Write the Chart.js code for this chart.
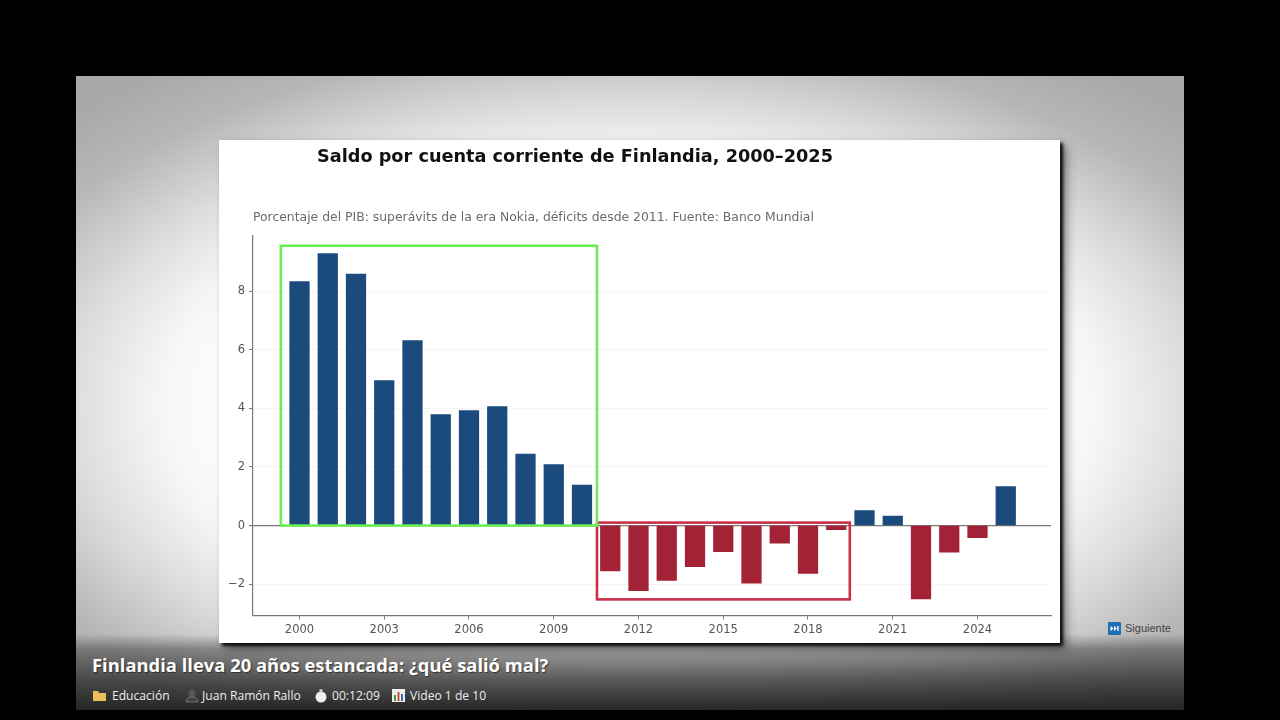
<!DOCTYPE html>
<html lang="es">
<head>
<meta charset="utf-8">
<title>Saldo por cuenta corriente de Finlandia</title>
<script src="https://cdn.jsdelivr.net/npm/chart.js@4"></script>
<style>
    html, body { margin: 0; width: 1280px; height: 720px; background: #000; overflow: hidden; }
    #fondo {
        position: absolute; left: 76px; top: 76px; width: 1108px; height: 634px;
        background: radial-gradient(ellipse 780px 420px at 50% 52%, #fff 50%, #f6f6f6 60%, #dcdcdc 72%, #b6b6b6 87%, #a8a8a8 100%);
    }
    #pie {
        position: absolute; left: 76px; top: 634px; width: 1108px; height: 76px;
        background: linear-gradient(to bottom, rgba(30,30,30,0), rgba(30,30,30,.4) 20%, rgba(30,30,30,.7) 60%, rgba(30,30,30,.95));
    }
    #tarjeta {
        position: absolute; left: 219px; top: 140px; width: 841px; height: 503px; background: #fff;
        box-shadow: 3px 3px 3px rgba(0,0,0,.9), 6px 6px 10px rgba(0,0,0,.45);
    }
    #grafico { position: absolute; left: 0; top: 0; }
    .texto { position: absolute; white-space: nowrap; font-family: "DejaVu Sans", sans-serif; }
    #titulo { left: 98px; top: 5px; font-size: 17.7px; line-height: 22px; font-weight: bold; color: #111; }
    #subtitulo { left: 34px; top: 69px; font-size: 12.4px; line-height: 16px; color: #6b6b6b; }
    #tituloVideo {
        position: absolute; left: 92px; top: 653px; white-space: nowrap; color: #fff;
        font: bold 18.4px/24px "Open Sans", sans-serif; text-shadow: 1px 1px 1px rgba(0,0,0,.5);
    }
    .meta {
        position: absolute; top: 687px; white-space: nowrap; color: #eee;
        font: 12.1px/18px "Open Sans", sans-serif;
    }
    .icono { position: absolute; }
    #siguiente { position: absolute; left: 1125px; top: 620px; color: #444; font: 11px/16px "Liberation Sans", sans-serif; }
</style>
</head>
<body>
<div id="fondo"></div>
<div id="pie"></div>
<div id="tarjeta">
    <canvas id="grafico" width="841" height="503"></canvas>
    <div class="texto" id="titulo">Saldo por cuenta corriente de Finlandia, 2000–2025</div>
    <div class="texto" id="subtitulo">Porcentaje del PIB: superávits de la era Nokia, déficits desde 2011. Fuente: Banco Mundial</div>
</div>

<div id="tituloVideo">Finlandia lleva 20 años estancada: ¿qué salió mal?</div>

<svg class="icono" style="left:93px;top:690px" width="14" height="12"><path d="M0 1h5l1 2h7v8H0z" fill="#e8c15a"/></svg>
<div class="meta" style="left:112px">Educación</div>
<svg class="icono" style="left:185px;top:689px" width="14" height="14"><circle cx="7" cy="4.5" r="3.5" fill="#555"/><path d="M1 13c0-4 3-5 6-5s6 1 6 5z" fill="#444" stroke="#999" stroke-width=".6"/></svg>
<div class="meta" style="left:202px">Juan Ramón Rallo</div>
<svg class="icono" style="left:314px;top:689px" width="14" height="14"><circle cx="7" cy="8" r="5.5" fill="#eee"/><rect x="5.5" y="0.5" width="3" height="2" fill="#eee"/></svg>
<div class="meta" style="left:332px">00:12:09</div>
<svg class="icono" style="left:392px;top:689px" width="13" height="13"><rect width="13" height="13" fill="#eee"/><rect x="2" y="6" width="2" height="6" fill="#3a9a4a"/><rect x="5.5" y="3" width="2" height="9" fill="#c8503c"/><rect x="9" y="5" width="2" height="7" fill="#3a6fb0"/></svg>
<div class="meta" style="left:410px">Video 1 de 10</div>

<svg class="icono" style="left:1108px;top:622px" width="13" height="13"><rect width="13" height="13" rx="1" fill="#1f6fb5"/><path d="M2.5 4l3 2.5-3 2.5zM6 4l3 2.5-3 2.5z" fill="#fff"/><rect x="9.3" y="4" width="1.3" height="5" fill="#fff"/></svg>
<div id="siguiente">Siguiente</div>

<script>
// Datos
const anos = [2000, 2001, 2002, 2003, 2004, 2005, 2006, 2007, 2008, 2009, 2010, 2011, 2012,
    2013, 2014, 2015, 2016, 2017, 2018, 2019, 2020, 2021, 2022, 2023, 2024, 2025];
const saldo = [8.33, 9.28, 8.58, 4.95, 6.31, 3.79, 3.92, 4.06, 2.44, 2.08, 1.38, -1.55, -2.22,
    -1.87, -1.40, -0.89, -1.97, -0.60, -1.63, -0.14, 0.51, 0.32, -2.50, -0.91, -0.41, 1.33];
const ticksX = [2000, 2003, 2006, 2009, 2012, 2015, 2018, 2021, 2024];
const ticksY = [-2, 0, 2, 4, 6, 8];

// Recuadros de resaltado, en unidades de los ejes: [x inicial, x final, y inferior, y superior]
const recuadroVerde = [1999.34, 2010.53, 0, 9.55];
const recuadroRojo = [2010.53, 2019.48, -2.52, 0.1];

const colorAzul = '#1b4b7c';
const colorRojo = '#a42236';

const pluginRecuadros = {
    id: 'recuadros',
    afterDatasetsDraw(chart) {
        const { ctx, scales: { x, y } } = chart;
        const dibujar = (r, color) => {
            ctx.save();
            ctx.strokeStyle = color;
            ctx.lineWidth = 2.6;
            ctx.strokeRect(x.getPixelForValue(r[0]), y.getPixelForValue(r[3]),
                x.getPixelForValue(r[1]) - x.getPixelForValue(r[0]),
                y.getPixelForValue(r[2]) - y.getPixelForValue(r[3]));
            ctx.restore();
        };
        dibujar(recuadroRojo, '#c9304a');
        dibujar(recuadroVerde, '#6bee55');
    }
};

const ctx = document.getElementById('grafico').getContext('2d');
new Chart(ctx, {
    type: 'bar',
    data: {
        datasets: [{
            label: 'Saldo por cuenta corriente (% del PIB)',
            data: anos.map((a, i) => ({ x: a, y: saldo[i] })),
            backgroundColor: saldo.map(v => v >= 0 ? colorAzul : colorRojo),
            barThickness: 19.6
        }]
    },
    plugins: [pluginRecuadros],
    options: {
        responsive: false,
        animation: false,
        devicePixelRatio: 1,
        layout: { padding: { top: 95.5, right: 9, left: 0, bottom: 0 } },
        plugins: { legend: { display: false }, tooltip: { enabled: false }, title: { display: false } },
        scales: {
            x: {
                type: 'linear',
                offset: false, // el valor por defecto de las barras desplaza la escala
                min: 1998.354,
                max: 2026.602,
                afterBuildTicks: eje => { eje.ticks = ticksX.map(v => ({ value: v })); },
                afterFit: eje => { eje.height = 27.5; },
                grid: { offset: false, drawOnChartArea: false, tickLength: 4, color: '#777' },
                border: { color: '#777', width: 1.2 },
                ticks: {
                    autoSkip: false, maxRotation: 0, padding: 4, color: '#555',
                    font: { family: 'DejaVu Sans', size: 11.5 },
                    callback: v => String(v)
                }
            },
            y: {
                min: -3.07,
                max: 9.9,
                afterBuildTicks: eje => { eje.ticks = ticksY.map(v => ({ value: v })); },
                afterFit: eje => { eje.width = 34; },
                grid: {
                    tickLength: 4,
                    color: c => c.tick && c.tick.value === 0 ? '#777' : '#f5f5f5',
                    tickColor: '#777',
                    lineWidth: c => c.tick && c.tick.value === 0 ? 1.2 : 1
                },
                border: { color: '#777', width: 1.2 },
                ticks: {
                    padding: 4, color: '#555',
                    font: { family: 'DejaVu Sans', size: 11.5 },
                    callback: v => String(v).replace('-', '−')
                }
            }
        }
    }
});
</script>
</body>
</html>
